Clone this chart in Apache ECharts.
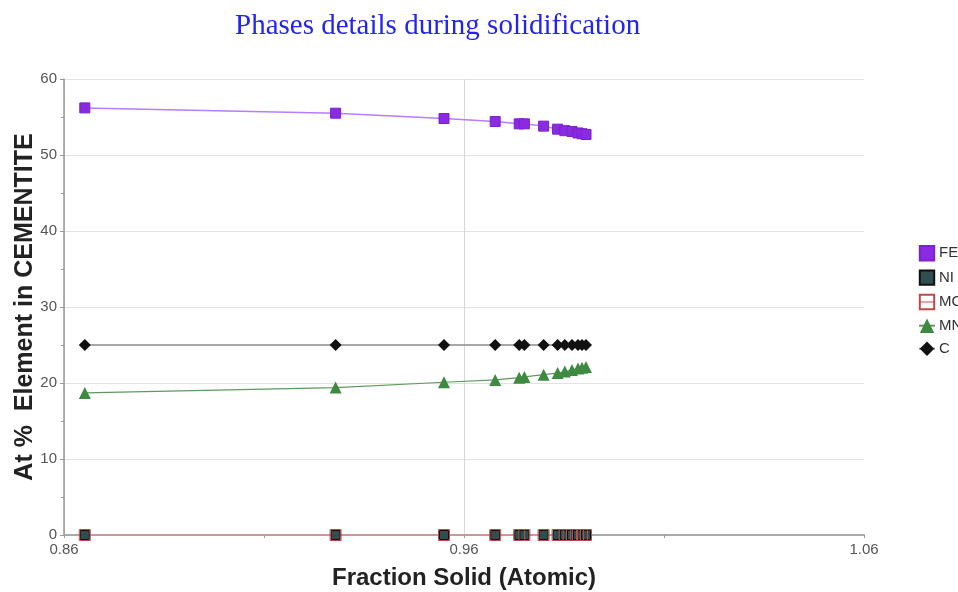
<!DOCTYPE html>
<html>
<head>
<meta charset="utf-8">
<title>Phases details during solidification</title>
<script src="https://cdn.jsdelivr.net/npm/echarts@6/dist/echarts.min.js"></script>
<style>
  html, body { margin: 0; padding: 0; background: #fff; }
  #chart { width: 958px; height: 592px; }
</style>
</head>
<body>
<div id="chart"></div>
<script>
// fraction solid (x) for every step of the solidification
const fraction = [0.8652, 0.9279, 0.9550, 0.9678, 0.9738, 0.9751, 0.9799, 0.9834, 0.9852, 0.9870, 0.9885, 0.9895, 0.9905]
// at % of each element in CEMENTITE
const FE = [56.2, 55.5, 54.8, 54.4, 54.1, 54.1, 53.8, 53.4, 53.2, 53.1, 52.9, 52.8, 52.7]
const NI = [0, 0, 0, 0, 0, 0, 0, 0, 0, 0, 0, 0, 0]
const MO = [0, 0, 0, 0, 0, 0, 0, 0, 0, 0, 0, 0, 0]
const MN = [18.7, 19.4, 20.1, 20.4, 20.7, 20.8, 21.1, 21.3, 21.5, 21.7, 21.9, 22.0, 22.1]
const C = [25, 25, 25, 25, 25, 25, 25, 25, 25, 25, 25, 25, 25]
const xLabels = ['0.86', '0.96', '1.06']

const font = 'Liberation Sans, Arial, sans-serif'
const toPoints = arr => fraction.map((x, i) => [x, arr[i]])

// only the tick at 0.96 gets a vertical grid line
const vLineColors = ['#d8d8d8', 'rgba(0,0,0,0)', 'rgba(0,0,0,0)', 'rgba(0,0,0,0)', 'rgba(0,0,0,0)',
  'rgba(0,0,0,0)', 'rgba(0,0,0,0)', 'rgba(0,0,0,0)', 'rgba(0,0,0,0)', 'rgba(0,0,0,0)']

const chart = echarts.init(document.getElementById('chart'))
chart.setOption({
  animation: false,
  backgroundColor: '#fff',
  title: {
    text: 'Phases details during solidification',
    left: 230,
    top: 7,
    textStyle: {
      color: '#2424ee',
      fontFamily: 'Liberation Serif, Times New Roman, serif',
      fontWeight: 'normal',
      fontSize: 29,
    },
  },
  legend: {
    orient: 'vertical',
    left: 913,
    top: 240,
    itemWidth: 16,
    itemHeight: 18,
    itemGap: 8,
    textStyle: { color: '#333', fontFamily: font, fontSize: 15, padding: [0, 0, 0, -1] },
    data: ['FE', 'NI', 'MO', 'MN', 'C'],
  },
  grid: {
    left: 64,
    right: 94,
    top: 79,
    bottom: 57,
    containLabel: false,
    outerBoundsMode: 'none',
  },
  xAxis: [
    {
      type: 'value',
      min: 0.86,
      max: 1.06,
      interval: 0.01,
      name: 'Fraction Solid (Atomic)',
      nameLocation: 'middle',
      nameGap: 31,
      nameTextStyle: { color: '#222', fontFamily: font, fontWeight: 'bold', fontSize: 24 },
      axisLine: { show: true, lineStyle: { color: '#aaa', width: 2 } },
      axisTick: { show: false },
      axisLabel: {
        margin: 7,
        color: '#555',
        fontFamily: font,
        fontSize: 15,
        formatter: v => {
          const s = v.toFixed(2)
          return xLabels.includes(s) ? s : ''
        },
      },
      splitLine: {
        show: true,
        showMinLine: true,
        showMaxLine: false,
        lineStyle: { color: vLineColors, width: 1 },
      },
    },
    {
      // tick marks only: 0.86, 0.91, 0.96, 1.01, 1.06
      type: 'value',
      position: 'bottom',
      min: 0,
      max: 4,
      interval: 1,
      axisLine: { show: false },
      axisTick: { show: true, length: 3, lineStyle: { color: '#999' } },
      axisLabel: { show: false },
      splitLine: { show: false },
    },
  ],
  yAxis: {
    type: 'value',
    min: 0,
    max: 60,
    interval: 10,
    name: 'At %  Element in CEMENTITE',
    nameLocation: 'middle',
    nameGap: 26,
    nameMoveOverlap: false,
    nameTextStyle: { color: '#222', fontFamily: font, fontWeight: 'bold', fontSize: 25 },
    axisLine: { show: true, lineStyle: { color: '#999', width: 1.5 } },
    axisTick: { show: true, length: 4, lineStyle: { color: '#999' } },
    minorTick: { show: true, splitNumber: 2, length: 3, lineStyle: { color: '#999' } },
    axisLabel: { margin: 7, color: '#555', fontFamily: font, fontSize: 15 },
    splitLine: {
      show: true,
      showMinLine: false,
      lineStyle: { color: '#e2e2e2', width: 1 },
    },
  },
  series: [
    {
      name: 'FE',
      type: 'line',
      data: toPoints(FE),
      symbol: 'rect',
      symbolSize: 10,
      lineStyle: { color: '#b77cff', width: 1.5 },
      itemStyle: { color: '#8a2be2', borderColor: '#7a22cc', borderWidth: 1 },
    },
    {
      name: 'NI',
      type: 'line',
      data: toPoints(NI),
      symbol: 'rect',
      symbolSize: 9,
      lineStyle: { color: '#2f4f4f', width: 1 },
      itemStyle: { color: '#2f4f4f', borderColor: '#111', borderWidth: 1 },
    },
    {
      name: 'MO',
      type: 'line',
      data: toPoints(MO),
      symbol: 'rect',
      symbolSize: 11,
      lineStyle: { color: '#e8a4a4', width: 1.5 },
      itemStyle: { color: 'rgba(255,255,255,0)', borderColor: '#c04848', borderWidth: 1 },
    },
    {
      name: 'MN',
      type: 'line',
      data: toPoints(MN),
      symbol: 'triangle',
      symbolSize: 12,
      lineStyle: { color: '#5e9a5e', width: 1.2 },
      itemStyle: { color: '#3d8a40' },
    },
    {
      name: 'C',
      type: 'line',
      data: toPoints(C),
      symbol: 'diamond',
      symbolSize: 12,
      lineStyle: { color: '#8a8a8a', width: 1.5 },
      itemStyle: { color: '#111' },
    },
  ],
})

window.addEventListener('resize', () => chart.resize())
</script>
</body>
</html>
